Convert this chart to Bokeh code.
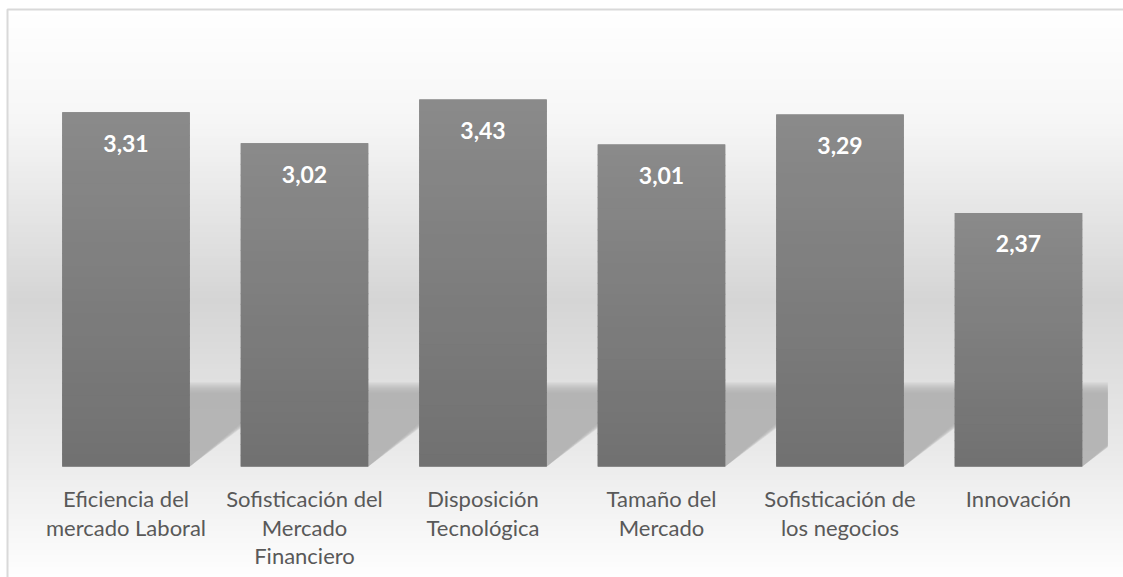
from bokeh.plotting import figure
from bokeh.models import Range1d
from bokeh.core.properties import value
from bokeh.embed import file_html
from bokeh.resources import INLINE

# ---- data ----
categories = [
    "Eficiencia del\nmercado Laboral",
    "Sofisticación del\nMercado\nFinanciero",
    "Disposición\nTecnológica",
    "Tamaño del\nMercado",
    "Sofisticación de\nlos negocios",
    "Innovación",
]
values = [3.31, 3.02, 3.43, 3.01, 3.29, 2.37]
value_labels = [f"{v:.2f}".replace(".", ",") for v in values]

# ---- layout (screen px) ----
W, H = 1123, 577
PLOT_L, PLOT_R = 36.25, 1107.25
BASE_Y = 466.0
PX_PER_UNIT = 107.0
N = len(categories)
CAT_W = (PLOT_R - PLOT_L) / N
BAR_W = 0.714


def px_to_x(px):
    return (px - PLOT_L) / CAT_W


def py_to_y(py):
    return (BASE_Y - py) / PX_PER_UNIT


def lerp(a, b, t):
    return a + (b - a) * t


def grey(v):
    v = int(round(max(0, min(255, v))))
    return "#%02x%02x%02x" % (v, v, v)


p = figure(
    width=W, height=H,
    x_range=Range1d(px_to_x(0), px_to_x(W)),
    y_range=Range1d(py_to_y(H), py_to_y(0)),
    output_backend="svg", toolbar_location=None,
    x_axis_type=None, y_axis_type=None,
    min_border=0, min_border_left=0, min_border_right=0,
    min_border_top=0, min_border_bottom=0,
    outline_line_color=None,
    background_fill_color="white", border_fill_color="white",
)

# ---- chart-area background gradient ----
stops = [(9, 255), (120, 246), (300, 213), (440, 232), (577, 254)]


def bg_level(py):
    for (y0, c0), (y1, c1) in zip(stops[:-1], stops[1:]):
        if py <= y1:
            return lerp(c0, c1, (py - y0) / (y1 - y0))
    return stops[-1][1]


bl, br, bt, bb, bc = [], [], [], [], []
step = 3
py = 9
while py < H:
    bl.append(px_to_x(7))
    br.append(px_to_x(W + 10))
    bt.append(py_to_y(py))
    bb.append(py_to_y(py + step + 0.6))
    bc.append(grey(bg_level(py + step / 2)))
    py += step
p.quad(left=bl, right=br, top=bt, bottom=bb, fill_color=bc, line_color=None)

# chart border
p.quad(left=[px_to_x(7)], right=[px_to_x(W + 10)], top=[py_to_y(9)],
       bottom=[py_to_y(H + 10)], fill_color=None, line_color="#d9d9d9",
       line_width=2)

# ---- perspective shadows behind the bars ----
xs = [i + 0.5 for i in range(N)]
SH_TOP = 84.0 / PX_PER_UNIT      # shadow height (data units)
SH_D = 112.0 / CAT_W             # horizontal reach of the slant
LAYERS = 6
for k in range(LAYERS):
    sx, sy = [], []
    top_k = SH_TOP - (k * 2.0) / PX_PER_UNIT
    d_k = SH_D - (k * 5.0) / CAT_W
    for x in xs:
        left = x - BAR_W / 2
        right = x + BAR_W / 2
        far = min(right + d_k, float(N))
        y_far = (far - right) / d_k * top_k
        sx.append([left, far, far, right, left])
        sy.append([top_k, top_k, min(y_far, top_k), 0, 0])
    p.patches(xs=sx, ys=sy, fill_color="#a4a4a4", fill_alpha=0.2,
              line_color=None)

# ---- bars (vertical gradient, drawn in slices over a base bar) ----
p.vbar(x=xs, bottom=0, top=values, width=BAR_W, fill_color="#7d7d7d",
       line_color=None)
NS = 30
vx, vb, vt, vc = [], [], [], []
for x, v in zip(xs, values):
    for s in range(NS):
        vx.append(x)
        vb.append(v * s / NS)
        vt.append(min(v, v * (s + 1) / NS + 0.01))
        vc.append(grey(lerp(0x71, 0x8a, (s + 0.5) / NS)))
p.vbar(x=vx, bottom=vb, top=vt, width=BAR_W, fill_color=vc, line_color=None)

# ---- value labels ----
p.text(x=xs, y=values, text=value_labels, text_align="center",
       text_baseline="middle", y_offset=31, text_color="white",
       text_font=value("Lato"), text_font_size="23px",
       text_font_style="bold")

# ---- category labels ----
lx, ly, lt, lo = [], [], [], []
for x, cat in zip(xs, categories):
    for j, line in enumerate(cat.split("\n")):
        lx.append(x)
        ly.append(0)
        lt.append(line)
        lo.append(32 + 28.7 * j)
p.text(x=lx, y=ly, text=lt, y_offset=lo, text_align="center",
       text_baseline="middle", text_color="#595959",
       text_font=value("Lato"), text_font_size="22px")

open("out.html", "w").write(file_html(p, INLINE))
